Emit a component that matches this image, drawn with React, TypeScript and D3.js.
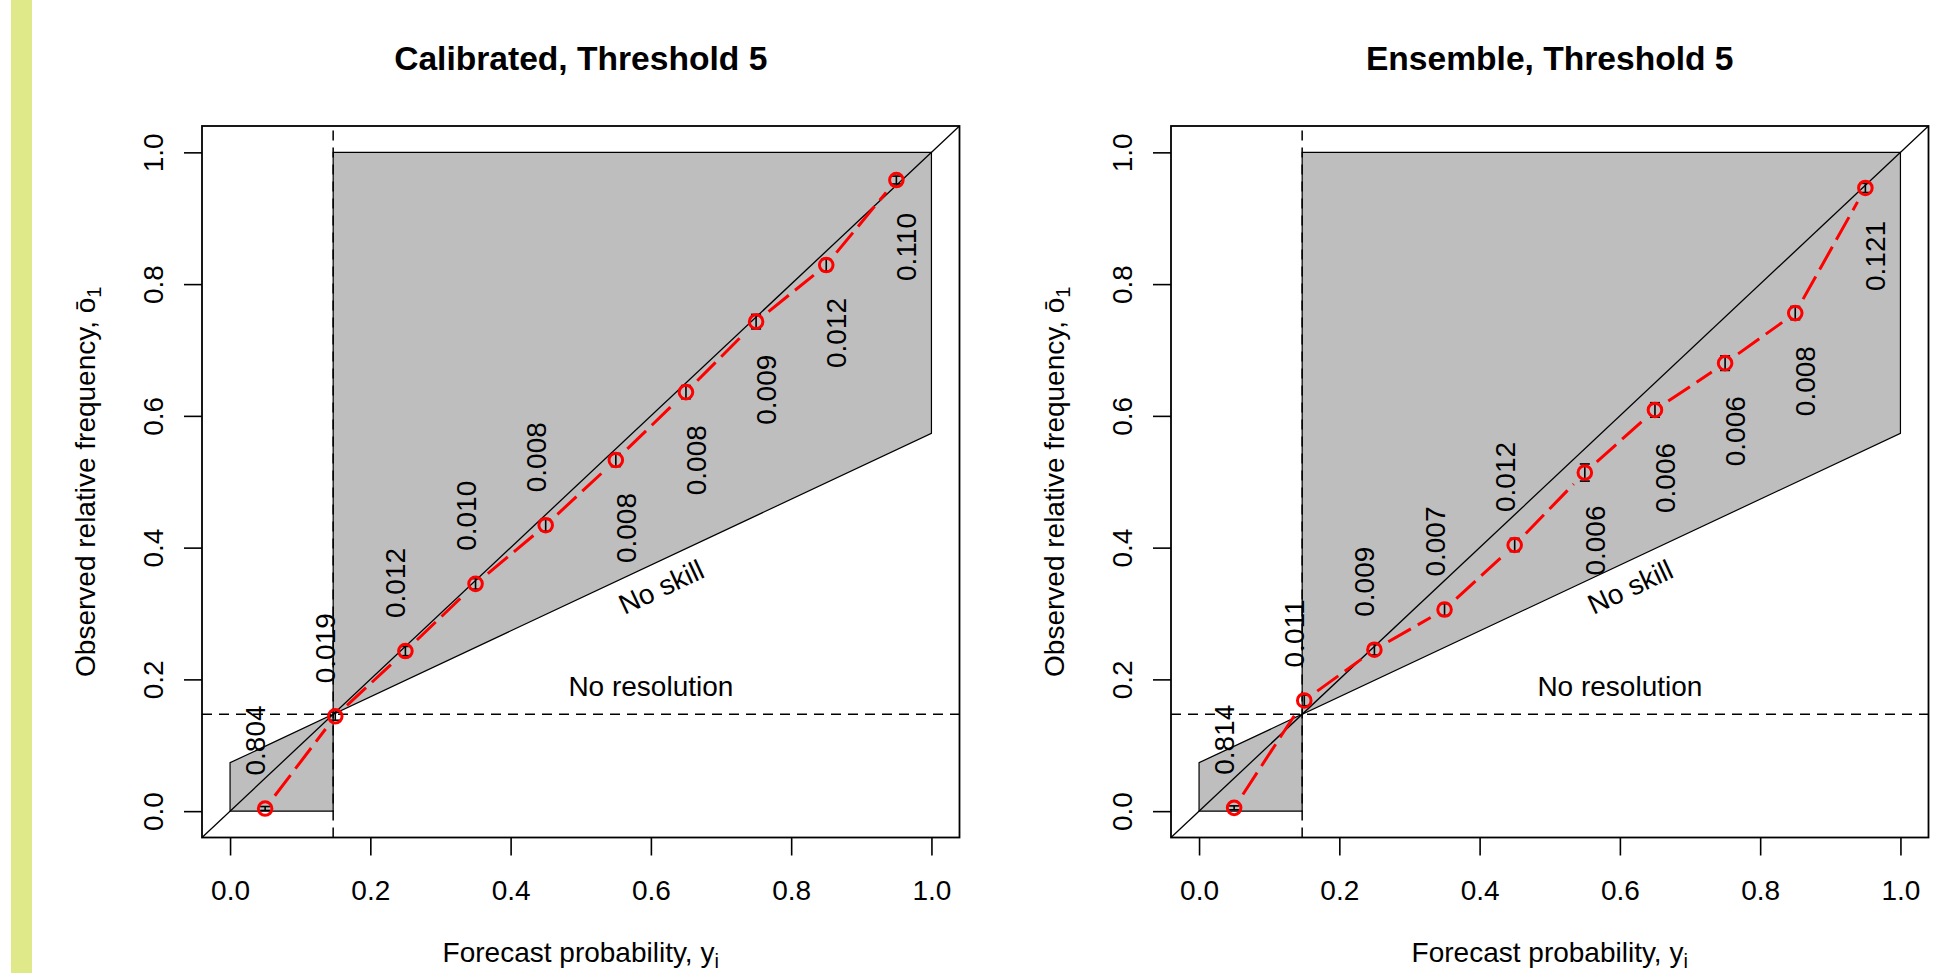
import * as d3 from "d3";
import { useEffect, useRef } from "react";

// bin centres of the forecast probabilities
const bins = [0.05, 0.15, 0.25, 0.35, 0.45, 0.55, 0.65, 0.75, 0.85, 0.95];
const axisTicks = [0, 0.2, 0.4, 0.6, 0.8, 1.0];
const climatology = 0.147;

// Calibrated
const calObar = [0.004, 0.144, 0.243, 0.345, 0.434, 0.533, 0.636, 0.743, 0.829, 0.958];
const calErr = [0.003, 0.006, 0.007, 0.008, 0.009, 0.010, 0.010, 0.011, 0.009, 0.006];
const calFreq = ["0.804", "0.019", "0.012", "0.010", "0.008", "0.008", "0.008", "0.009", "0.012", "0.110"];

// Ensemble
const ensObar = [0.005, 0.168, 0.245, 0.306, 0.404, 0.514, 0.609, 0.680, 0.756, 0.946];
const ensErr = [0.003, 0.008, 0.008, 0.009, 0.010, 0.013, 0.011, 0.011, 0.010, 0.007];
const ensFreq = ["0.814", "0.011", "0.009", "0.007", "0.012", "0.006", "0.006", "0.006", "0.008", "0.121"];

const FONT = "'Liberation Sans', Arial, Helvetica, sans-serif";

function Panel({ left, title, obar, err, freq }) {
  const refX = useRef();
  const refY = useRef();
  const top = 126;
  const bottom = 837.5;
  const w = 757.5;

  const x = d3.scaleLinear().domain([-0.04, 1.04]).range([left, left + w]);
  const y = d3.scaleLinear().domain([-0.04, 1.04]).range([bottom, top]);

  useEffect(() => {
    const gx = d3.select(refX.current);
    gx.call(d3.axisBottom(x).tickValues(axisTicks).tickSize(18).tickPadding(25).tickFormat(d3.format(".1f")));
    gx.select(".domain").remove();
    gx.selectAll(".tick line").attr("stroke", "#000").attr("stroke-width", 1.6);
    gx.selectAll(".tick text").attr("font-size", 28).attr("font-family", FONT).attr("fill", "#000");

    const gy = d3.select(refY.current);
    gy.call(d3.axisLeft(y).tickValues(axisTicks).tickSize(18).tickFormat(d3.format(".1f")));
    gy.select(".domain").remove();
    gy.selectAll(".tick line").attr("stroke", "#000").attr("stroke-width", 1.6);
    gy.selectAll(".tick text")
      .attr("font-size", 28).attr("font-family", FONT).attr("fill", "#000")
      .attr("transform", "rotate(-90)")
      .attr("x", 0).attr("y", -39).attr("dy", null)
      .attr("text-anchor", "middle");
  }, []);

  const line = d3.line().x(d => x(d[0])).y(d => y(d[1]));
  const bigPoly = [[climatology, climatology], [climatology, 1], [1, 1], [1, (1 + climatology) / 2]];
  const smallPoly = [[0, 0], [0, climatology / 2], [climatology, climatology], [climatology, 0]];

  // red line segments with gaps around the points (R type = "b")
  const gap = 16;
  const segs = bins.slice(1).map((b, i) => {
    const x1 = x(bins[i]), y1 = y(obar[i]);
    const x2 = x(b), y2 = y(obar[i + 1]);
    const len = Math.hypot(x2 - x1, y2 - y1);
    const ux = (x2 - x1) / len, uy = (y2 - y1) / len;
    return [x1 + ux * gap, y1 + uy * gap, x2 - ux * gap, y2 - uy * gap];
  });

  const skillAngle = Math.atan2(y(1) - y(0), 2 * (x(1) - x(0))) * 180 / Math.PI;
  const cx = left + w / 2;
  const cy = (top + bottom) / 2;

  return (
    <g>
      <text x={cx} y={70} textAnchor="middle" fontSize={33.6} fontWeight="bold" fontFamily={FONT}>{title}</text>

      <path d={line(bigPoly) + "Z"} fill="#bebebe" stroke="#000" strokeWidth={1.2} />
      <path d={line(smallPoly) + "Z"} fill="#bebebe" stroke="#000" strokeWidth={1.2} />

      <line x1={x(-0.04)} y1={y(-0.04)} x2={x(1.04)} y2={y(1.04)} stroke="#000" strokeWidth={1.3} />
      <line x1={x(-0.04)} x2={x(1.04)} y1={y(climatology)} y2={y(climatology)} stroke="#000" strokeWidth={1.5} strokeDasharray="10 7" />
      <line x1={x(climatology)} x2={x(climatology)} y1={y(-0.04)} y2={y(1.04)} stroke="#000" strokeWidth={1.5} strokeDasharray="10 7" />

      <text x={x(0.6)} y={y(climatology) - 18} textAnchor="middle" fontSize={28} fontFamily={FONT}>No resolution</text>
      <text transform={`translate(${x(0.6)},${y((0.6 + climatology) / 2)}) rotate(${skillAngle})`} x={0} y={34}
        textAnchor="middle" fontSize={28} fontFamily={FONT}>No skill</text>

      {freq.map((f, i) => {
        const above = bins[i] < 0.5;
        return (
          <text key={"f" + i} transform={`translate(${x(bins[i])},${y(obar[i])}) rotate(-90)`}
            x={above ? 33 : -33} y={above ? 0 : 20} textAnchor={above ? "start" : "end"}
            fontSize={28} fontFamily={FONT}>{f}</text>
        );
      })}

      {bins.map((b, i) => (
        <g key={"e" + i} stroke="#000" strokeWidth={1.6}>
          <line x1={x(b)} x2={x(b)} y1={y(obar[i] - err[i])} y2={y(obar[i] + err[i])} />
          <line x1={x(b) - 5} x2={x(b) + 5} y1={y(obar[i] - err[i])} y2={y(obar[i] - err[i])} />
          <line x1={x(b) - 5} x2={x(b) + 5} y1={y(obar[i] + err[i])} y2={y(obar[i] + err[i])} />
        </g>
      ))}

      {segs.map((s, i) => (
        <line key={"s" + i} x1={s[0]} y1={s[1]} x2={s[2]} y2={s[3]} stroke="#ff0000" strokeWidth={3} strokeDasharray="26 8" />
      ))}
      {bins.map((b, i) => (
        <circle key={"c" + i} cx={x(b)} cy={y(obar[i])} r={6.8} fill="none" stroke="#ff0000" strokeWidth={3} />
      ))}

      <rect x={left} y={top} width={w} height={bottom - top} fill="none" stroke="#000" strokeWidth={1.8} />
      <g ref={refX} transform={`translate(0,${bottom})`}></g>
      <g ref={refY} transform={`translate(${left},0)`}></g>

      <text x={cx} y={962} textAnchor="middle" fontSize={28} fontFamily={FONT}>
        Forecast probability, y<tspan fontSize={20} dy={6}>i</tspan>
      </text>
      <text transform={`translate(${left - 107},${cy}) rotate(-90)`} textAnchor="middle" fontSize={28} fontFamily={FONT}>
        Observed relative frequency, ō<tspan fontSize={20} dy={6}>1</tspan>
      </text>
    </g>
  );
}

export default function App() {
  return (
    <svg width={1960} height={973} style={{ position: "absolute", left: 0, top: 0, display: "block", background: "#fff" }}>
      <rect x={0} y={0} width={1960} height={973} fill="#fff" />
      <rect x={11} y={0} width={21} height={973} fill="#dfe98a" />
      <Panel left={202} title="Calibrated, Threshold 5" obar={calObar} err={calErr} freq={calFreq} />
      <Panel left={1171} title="Ensemble, Threshold 5" obar={ensObar} err={ensErr} freq={ensFreq} />
    </svg>
  );
}
